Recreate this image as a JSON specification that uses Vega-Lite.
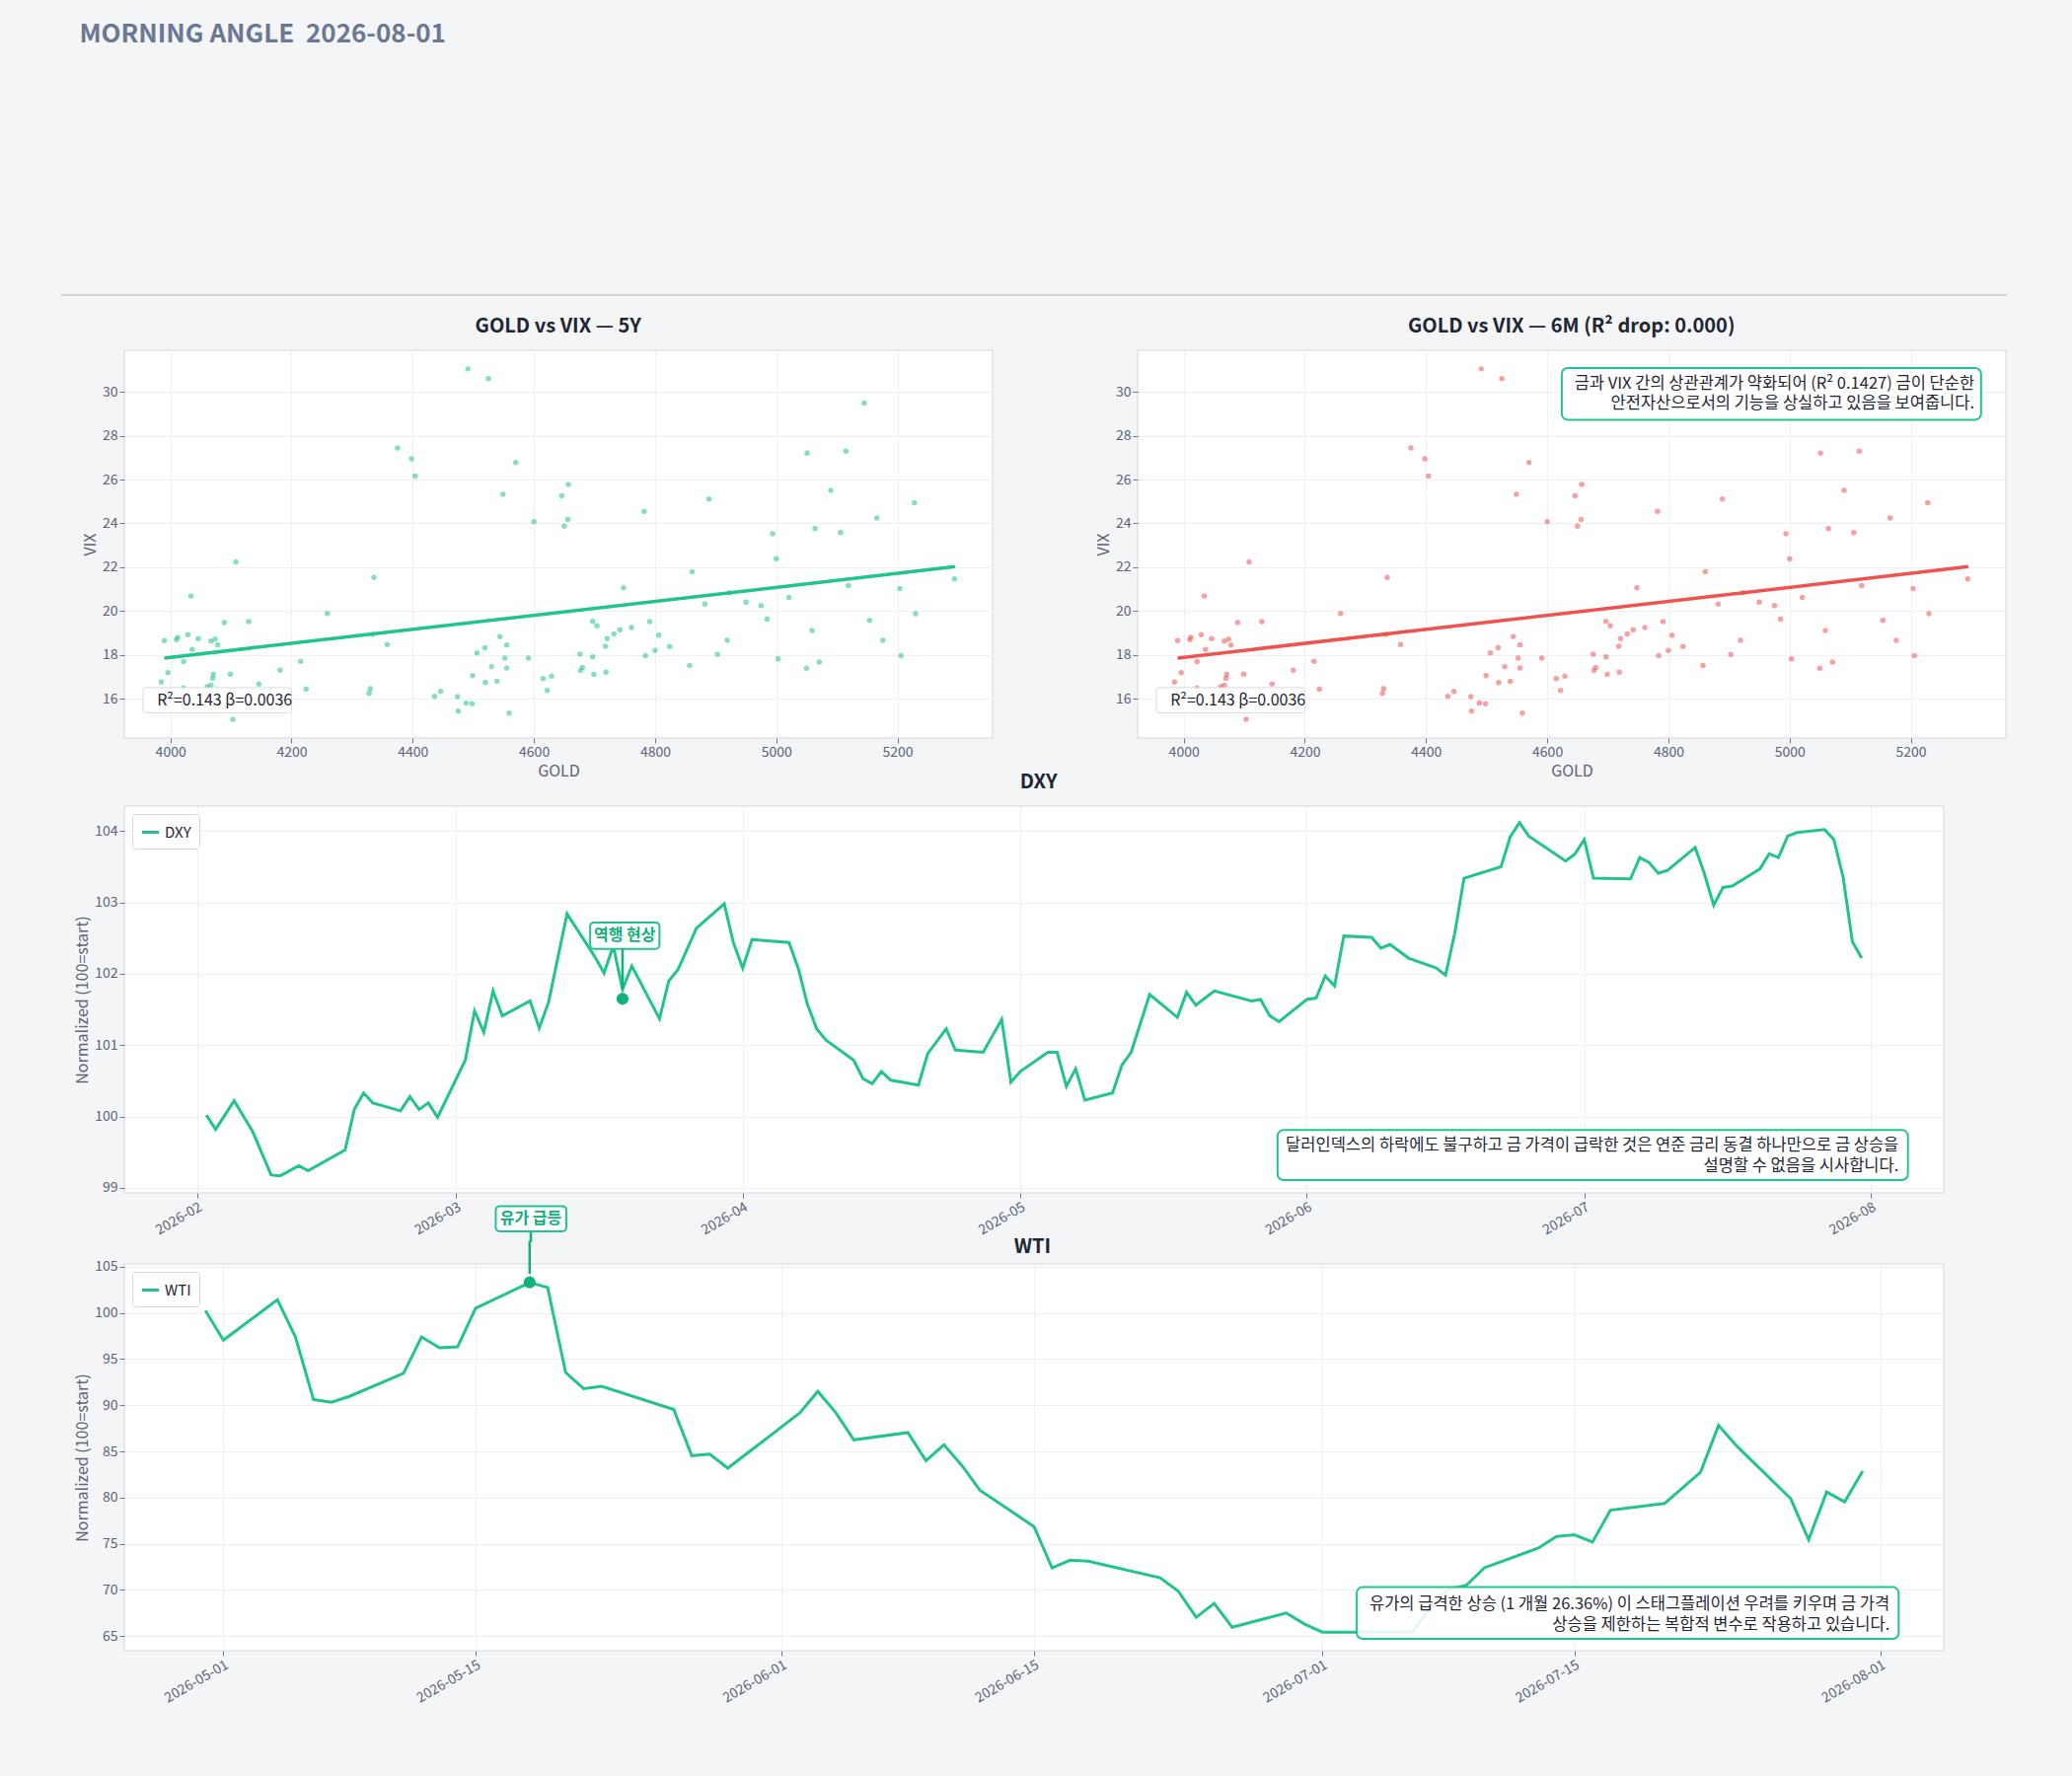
{
  "$schema": "https://vega.github.io/schema/vega-lite/v6.json",
  "background": "#f4f5f7",
  "padding": {"left": 60, "top": 22, "right": 65, "bottom": 76},
  "title": {"text": "MORNING ANGLE\u00a0 2026-08-01", "anchor": "start", "fontSize": 26, "font": "Noto Sans CJK KR", "fontWeight": "bold", "color": "#6b7894", "offset": 249, "dx": 20},
  "config": {
    "font": "Noto Sans CJK KR",
    "view": {"fill": "white", "stroke": "#dfe2e7", "strokeWidth": 1.5},
    "axis": {"gridColor": "#eef0f3", "domain": false, "tickColor": "#6b7894", "labelColor": "#5a6478", "titleColor": "#5a6478", "labelFontSize": 14, "titleFontSize": 16, "titleFontWeight": "normal"},
    "text": {"font": "Noto Sans CJK KR"}
  },
  "resolve": {"scale": {"color": "independent"}, "legend": {"color": "independent"}},
  "spacing": -8,
  "datasets": {
    "gv": [
      {"gold":4491,"vix":31.05},{"gold":4525,"vix":30.61},{"gold":5145,"vix":29.49},{"gold":4375,"vix":27.44},{"gold":4398,"vix":26.95},{"gold":4404,"vix":26.16},{"gold":4570,"vix":26.78},{"gold":5051,"vix":27.2},{"gold":5115,"vix":27.29},{"gold":4549,"vix":25.33},{"gold":4657,"vix":25.78},{"gold":4646,"vix":25.26},{"gold":4889,"vix":25.11},{"gold":5090,"vix":25.51},{"gold":5228,"vix":24.94},{"gold":4782,"vix":24.55},{"gold":4600,"vix":24.08},{"gold":4656,"vix":24.18},{"gold":4650,"vix":23.87},{"gold":5166,"vix":24.24},{"gold":4994,"vix":23.52},{"gold":5064,"vix":23.76},{"gold":5106,"vix":23.58},{"gold":5000,"vix":22.39},{"gold":4108,"vix":22.24},{"gold":4336,"vix":21.53},{"gold":4861,"vix":21.79},{"gold":4748,"vix":21.06},{"gold":5119,"vix":21.16},{"gold":5204,"vix":21.02},{"gold":5294,"vix":21.46},{"gold":4034,"vix":20.68},{"gold":4923,"vix":20.83},{"gold":4950,"vix":20.4},{"gold":4975,"vix":20.25},{"gold":5021,"vix":20.62},{"gold":4259,"vix":19.89},{"gold":4882,"vix":20.31},{"gold":5230,"vix":19.87},{"gold":4985,"vix":19.63},{"gold":5154,"vix":19.57},{"gold":4089,"vix":19.47},{"gold":4129,"vix":19.51},{"gold":4697,"vix":19.53},{"gold":4704,"vix":19.32},{"gold":4791,"vix":19.51},{"gold":4742,"vix":19.14},{"gold":4732,"vix":18.95},{"gold":4761,"vix":19.24},{"gold":4806,"vix":18.9},{"gold":4721,"vix":18.74},{"gold":4718,"vix":18.39},{"gold":4824,"vix":18.38},{"gold":5059,"vix":19.11},{"gold":4919,"vix":18.66},{"gold":5176,"vix":18.66},{"gold":3990,"vix":18.65},{"gold":4010,"vix":18.69},{"gold":4012,"vix":18.8},{"gold":4029,"vix":18.92},{"gold":4046,"vix":18.74},{"gold":4067,"vix":18.62},{"gold":4074,"vix":18.71},{"gold":4078,"vix":18.44},{"gold":4036,"vix":18.24},{"gold":4334,"vix":18.93},{"gold":4358,"vix":18.47},{"gold":4544,"vix":18.83},{"gold":4555,"vix":18.45},{"gold":4519,"vix":18.32},{"gold":4506,"vix":18.08},{"gold":4552,"vix":17.85},{"gold":4591,"vix":17.85},{"gold":4676,"vix":18.03},{"gold":4697,"vix":17.9},{"gold":4784,"vix":17.96},{"gold":4800,"vix":18.2},{"gold":4903,"vix":18.02},{"gold":5003,"vix":17.81},{"gold":5206,"vix":17.96},{"gold":4022,"vix":17.69},{"gold":4215,"vix":17.7},{"gold":4530,"vix":17.46},{"gold":4555,"vix":17.4},{"gold":4680,"vix":17.42},{"gold":4677,"vix":17.29},{"gold":4699,"vix":17.11},{"gold":4719,"vix":17.21},{"gold":4857,"vix":17.51},{"gold":5050,"vix":17.39},{"gold":5071,"vix":17.67},{"gold":3996,"vix":17.18},{"gold":4181,"vix":17.3},{"gold":4071,"vix":17.11},{"gold":4099,"vix":17.12},{"gold":4070,"vix":16.93},{"gold":4499,"vix":17.05},{"gold":4629,"vix":17.03},{"gold":4615,"vix":16.91},{"gold":3985,"vix":16.76},{"gold":4146,"vix":16.67},{"gold":4067,"vix":16.61},{"gold":4061,"vix":16.54},{"gold":4520,"vix":16.73},{"gold":4539,"vix":16.79},{"gold":4022,"vix":16.49},{"gold":4224,"vix":16.43},{"gold":4330,"vix":16.45},{"gold":4328,"vix":16.24},{"gold":4622,"vix":16.37},{"gold":4446,"vix":16.33},{"gold":4436,"vix":16.1},{"gold":4474,"vix":16.09},{"gold":4488,"vix":15.8},{"gold":4498,"vix":15.77},{"gold":4475,"vix":15.43},{"gold":4559,"vix":15.34},{"gold":4103,"vix":15.06}
    ],
    "dxy": [
      {"date":"2026-02-02","v":100.02},{"date":"2026-02-03","v":99.82},{"date":"2026-02-05","v":100.22},{"date":"2026-02-07","v":99.79},{"date":"2026-02-09","v":99.18},{"date":"2026-02-10","v":99.17},{"date":"2026-02-12","v":99.31},{"date":"2026-02-13","v":99.24},{"date":"2026-02-17","v":99.53},{"date":"2026-02-18","v":100.1},{"date":"2026-02-19","v":100.33},{"date":"2026-02-20","v":100.19},{"date":"2026-02-23","v":100.08},{"date":"2026-02-24","v":100.28},{"date":"2026-02-25","v":100.1},{"date":"2026-02-26","v":100.19},{"date":"2026-02-27","v":99.99},{"date":"2026-03-02","v":100.79},{"date":"2026-03-03","v":101.48},{"date":"2026-03-04","v":101.18},{"date":"2026-03-05","v":101.76},{"date":"2026-03-06","v":101.41},{"date":"2026-03-09","v":101.62},{"date":"2026-03-10","v":101.24},{"date":"2026-03-11","v":101.6},{"date":"2026-03-13","v":102.84},{"date":"2026-03-16","v":102.24},{"date":"2026-03-17","v":102.01},{"date":"2026-03-18","v":102.39},{"date":"2026-03-19","v":101.78},{"date":"2026-03-20","v":102.11},{"date":"2026-03-23","v":101.37},{"date":"2026-03-24","v":101.9},{"date":"2026-03-25","v":102.06},{"date":"2026-03-27","v":102.64},{"date":"2026-03-30","v":102.98},{"date":"2026-03-31","v":102.43},{"date":"2026-04-01","v":102.08},{"date":"2026-04-02","v":102.48},{"date":"2026-04-06","v":102.44},{"date":"2026-04-07","v":102.08},{"date":"2026-04-08","v":101.57},{"date":"2026-04-09","v":101.23},{"date":"2026-04-10","v":101.07},{"date":"2026-04-13","v":100.79},{"date":"2026-04-14","v":100.53},{"date":"2026-04-15","v":100.46},{"date":"2026-04-16","v":100.63},{"date":"2026-04-17","v":100.51},{"date":"2026-04-20","v":100.44},{"date":"2026-04-21","v":100.88},{"date":"2026-04-23","v":101.23},{"date":"2026-04-24","v":100.93},{"date":"2026-04-27","v":100.9},{"date":"2026-04-29","v":101.36},{"date":"2026-04-30","v":100.48},{"date":"2026-05-01","v":100.63},{"date":"2026-05-04","v":100.9},{"date":"2026-05-05","v":100.9},{"date":"2026-05-06","v":100.42},{"date":"2026-05-07","v":100.67},{"date":"2026-05-08","v":100.23},{"date":"2026-05-11","v":100.33},{"date":"2026-05-12","v":100.72},{"date":"2026-05-13","v":100.9},{"date":"2026-05-15","v":101.71},{"date":"2026-05-18","v":101.39},{"date":"2026-05-19","v":101.74},{"date":"2026-05-20","v":101.56},{"date":"2026-05-22","v":101.76},{"date":"2026-05-26","v":101.62},{"date":"2026-05-27","v":101.64},{"date":"2026-05-28","v":101.41},{"date":"2026-05-29","v":101.33},{"date":"2026-06-01","v":101.64},{"date":"2026-06-02","v":101.66},{"date":"2026-06-03","v":101.97},{"date":"2026-06-04","v":101.83},{"date":"2026-06-05","v":102.53},{"date":"2026-06-08","v":102.51},{"date":"2026-06-09","v":102.36},{"date":"2026-06-10","v":102.41},{"date":"2026-06-12","v":102.22},{"date":"2026-06-15","v":102.08},{"date":"2026-06-16","v":101.98},{"date":"2026-06-17","v":102.57},{"date":"2026-06-18","v":103.34},{"date":"2026-06-22","v":103.5},{"date":"2026-06-23","v":103.92},{"date":"2026-06-24","v":104.12},{"date":"2026-06-25","v":103.93},{"date":"2026-06-29","v":103.58},{"date":"2026-06-30","v":103.68},{"date":"2026-07-01","v":103.88},{"date":"2026-07-02","v":103.34},{"date":"2026-07-06","v":103.33},{"date":"2026-07-07","v":103.63},{"date":"2026-07-08","v":103.56},{"date":"2026-07-09","v":103.41},{"date":"2026-07-10","v":103.45},{"date":"2026-07-13","v":103.77},{"date":"2026-07-14","v":103.4},{"date":"2026-07-15","v":102.96},{"date":"2026-07-16","v":103.21},{"date":"2026-07-17","v":103.23},{"date":"2026-07-20","v":103.47},{"date":"2026-07-21","v":103.68},{"date":"2026-07-22","v":103.63},{"date":"2026-07-23","v":103.93},{"date":"2026-07-24","v":103.98},{"date":"2026-07-27","v":104.02},{"date":"2026-07-28","v":103.88},{"date":"2026-07-29","v":103.35},{"date":"2026-07-30","v":102.45},{"date":"2026-07-31","v":102.22}
    ],
    "wti": [
      {"date":"2026-04-30","v":100.25},{"date":"2026-05-01","v":97.04},{"date":"2026-05-04","v":101.43},{"date":"2026-05-05","v":97.39},{"date":"2026-05-06","v":90.61},{"date":"2026-05-07","v":90.32},{"date":"2026-05-08","v":90.96},{"date":"2026-05-11","v":93.46},{"date":"2026-05-12","v":97.39},{"date":"2026-05-13","v":96.21},{"date":"2026-05-14","v":96.32},{"date":"2026-05-15","v":100.5},{"date":"2026-05-18","v":103.29},{"date":"2026-05-19","v":102.75},{"date":"2026-05-20","v":93.54},{"date":"2026-05-21","v":91.79},{"date":"2026-05-22","v":92.04},{"date":"2026-05-26","v":89.54},{"date":"2026-05-27","v":84.54},{"date":"2026-05-28","v":84.71},{"date":"2026-05-29","v":83.18},{"date":"2026-06-02","v":89.18},{"date":"2026-06-03","v":91.5},{"date":"2026-06-04","v":89.18},{"date":"2026-06-05","v":86.25},{"date":"2026-06-08","v":87.04},{"date":"2026-06-09","v":84.0},{"date":"2026-06-10","v":85.71},{"date":"2026-06-11","v":83.46},{"date":"2026-06-12","v":80.79},{"date":"2026-06-15","v":76.86},{"date":"2026-06-16","v":72.39},{"date":"2026-06-17","v":73.21},{"date":"2026-06-18","v":73.11},{"date":"2026-06-22","v":71.32},{"date":"2026-06-23","v":69.89},{"date":"2026-06-24","v":67.04},{"date":"2026-06-25","v":68.54},{"date":"2026-06-26","v":65.96},{"date":"2026-06-29","v":67.5},{"date":"2026-06-30","v":66.32},{"date":"2026-07-01","v":65.43},{"date":"2026-07-03","v":65.43},{"date":"2026-07-06","v":65.43},{"date":"2026-07-07","v":68.1},{"date":"2026-07-08","v":70.07},{"date":"2026-07-09","v":70.5},{"date":"2026-07-10","v":72.4},{"date":"2026-07-13","v":74.54},{"date":"2026-07-14","v":75.79},{"date":"2026-07-15","v":75.96},{"date":"2026-07-16","v":75.18},{"date":"2026-07-17","v":78.64},{"date":"2026-07-20","v":79.36},{"date":"2026-07-22","v":82.75},{"date":"2026-07-23","v":87.82},{"date":"2026-07-24","v":85.6},{"date":"2026-07-27","v":79.9},{"date":"2026-07-28","v":75.43},{"date":"2026-07-29","v":80.6},{"date":"2026-07-30","v":79.54},{"date":"2026-07-31","v":82.86}
    ]
  },
  "vconcat": [
    {
      "bounds": "flush",
      "spacing": 147,
      "hconcat": [
        {
          "width": 880, "height": 393,
          "data": {"name": "gv"},
          "encoding": {
            "x": {"field": "gold", "type": "quantitative", "title": "GOLD", "scale": {"domain": [3924, 5357], "nice": false, "zero": false}, "axis": {"values": [4000, 4200, 4400, 4600, 4800, 5000, 5200], "format": "d"}},
            "y": {"field": "vix", "type": "quantitative", "title": "VIX", "scale": {"domain": [14.2, 31.9], "nice": false, "zero": false}, "axis": {"values": [16, 18, 20, 22, 24, 26, 28, 30]}}
          },
          "layer": [
            {"data": {"values": [{"x": 3820, "x2": 7031, "y": 34.42}]}, "mark": {"type": "rule", "color": "#cfd3da", "strokeWidth": 2, "clip": false}, "encoding": {"x": {"field": "x", "type": "quantitative"}, "x2": {"field": "x2"}, "y": {"field": "y", "type": "quantitative"}}},
            {"data": {"values": [{"x": 4640, "y": 32.98, "t": "GOLD vs VIX — 5Y"}]}, "mark": {"type": "text", "fontSize": 20, "fontWeight": "bold", "color": "#1f2633", "baseline": "middle", "clip": false}, "encoding": {"x": {"field": "x", "type": "quantitative"}, "y": {"field": "y", "type": "quantitative"}, "text": {"field": "t"}}},
            {"mark": {"type": "circle", "size": 30, "color": "#22c38e", "opacity": 0.55}},
            {"transform": [{"regression": "vix", "on": "gold", "extent": [3990, 5295]}], "mark": {"type": "line", "color": "#22c38e", "strokeWidth": 3.5}},
            {"data": {"values": [{"x": 3955, "x2": 4200, "y": 15.35, "y2": 16.5}]}, "mark": {"type": "rect", "fill": "white", "fillOpacity": 0.85, "stroke": "#d5d9e0", "cornerRadius": 3}, "encoding": {"x": {"field": "x", "type": "quantitative"}, "x2": {"field": "x2"}, "y": {"field": "y", "type": "quantitative"}, "y2": {"field": "y2"}}},
            {"data": {"values": [{"x": 3978, "y": 15.92, "t": "R²=0.143  β=0.0036"}]}, "mark": {"type": "text", "align": "left", "baseline": "middle", "fontSize": 16, "color": "#1f2633"}, "encoding": {"x": {"field": "x", "type": "quantitative"}, "y": {"field": "y", "type": "quantitative"}, "text": {"field": "t"}}}
          ]
        },
        {
          "width": 880, "height": 393,
          "data": {"name": "gv"},
          "encoding": {
            "x": {"field": "gold", "type": "quantitative", "title": "GOLD", "scale": {"domain": [3924, 5357], "nice": false, "zero": false}, "axis": {"values": [4000, 4200, 4400, 4600, 4800, 5000, 5200], "format": "d"}},
            "y": {"field": "vix", "type": "quantitative", "title": "VIX", "scale": {"domain": [14.2, 31.9], "nice": false, "zero": false}, "axis": {"values": [16, 18, 20, 22, 24, 26, 28, 30]}}
          },
          "layer": [
            {"data": {"values": [{"x": 4640, "y": 32.98, "t": "GOLD vs VIX — 6M (R² drop: 0.000)"}]}, "mark": {"type": "text", "fontSize": 20, "fontWeight": "bold", "color": "#1f2633", "baseline": "middle", "clip": false}, "encoding": {"x": {"field": "x", "type": "quantitative"}, "y": {"field": "y", "type": "quantitative"}, "text": {"field": "t"}}},
            {"mark": {"type": "circle", "size": 30, "color": "#ef5350", "opacity": 0.55}},
            {"transform": [{"regression": "vix", "on": "gold", "extent": [3990, 5295]}], "mark": {"type": "line", "color": "#ef5350", "strokeWidth": 3.5}},
            {"data": {"values": [{"x": 3955, "x2": 4200, "y": 15.35, "y2": 16.5}]}, "mark": {"type": "rect", "fill": "white", "fillOpacity": 0.85, "stroke": "#d5d9e0", "cornerRadius": 3}, "encoding": {"x": {"field": "x", "type": "quantitative"}, "x2": {"field": "x2"}, "y": {"field": "y", "type": "quantitative"}, "y2": {"field": "y2"}}},
            {"data": {"values": [{"x": 3978, "y": 15.92, "t": "R²=0.143  β=0.0036"}]}, "mark": {"type": "text", "align": "left", "baseline": "middle", "fontSize": 16, "color": "#1f2633"}, "encoding": {"x": {"field": "x", "type": "quantitative"}, "y": {"field": "y", "type": "quantitative"}, "text": {"field": "t"}}},
            {"data": {"values": [{"x": 4624, "x2": 5316, "y": 31.09, "y2": 28.73}]}, "mark": {"type": "rect", "fill": "white", "stroke": "#22c38e", "strokeWidth": 2, "cornerRadius": 6}, "encoding": {"x": {"field": "x", "type": "quantitative"}, "x2": {"field": "x2"}, "y": {"field": "y", "type": "quantitative"}, "y2": {"field": "y2"}}},
            {"data": {"values": [{"x": 5305, "y": 30.39, "t": "금과 VIX 간의 상관관계가 약화되어 (R² 0.1427) 금이 단순한\n안전자산으로서의 기능을 상실하고 있음을 보여줍니다."}]}, "mark": {"type": "text", "align": "right", "baseline": "middle", "lineBreak": "\n", "lineHeight": 20, "fontSize": 16.5, "color": "#1f2633"}, "encoding": {"x": {"field": "x", "type": "quantitative"}, "y": {"field": "y", "type": "quantitative"}, "text": {"field": "t"}}}
          ]
        }
      ]
    },
    {
      "width": 1844, "height": 392,
      "layer": [
        {
          "data": {"name": "dxy"},
          "transform": [{"calculate": "'DXY'", "as": "series"}],
          "mark": {"type": "line", "strokeWidth": 3},
          "encoding": {
            "x": {"field": "date", "type": "temporal", "title": null, "scale": {"domain": [{"year": 2026, "month": 1, "date": 24, "hours": 3}, {"year": 2026, "month": 8, "date": 8, "hours": 21}]}, "axis": {"format": "%Y-%m", "labelAngle": -30, "labelAlign": "right", "tickCount": {"interval": "month", "step": 1}}},
            "y": {"field": "v", "type": "quantitative", "title": "Normalized (100=start)", "scale": {"domain": [98.93, 104.35], "nice": false, "zero": false}, "axis": {"values": [99, 100, 101, 102, 103, 104], "format": "d"}},
            "color": {"field": "series", "type": "nominal", "scale": {"domain": ["DXY"], "range": ["#22c38e"]}, "legend": {"orient": "top-left", "title": null, "symbolType": "stroke", "symbolStrokeWidth": 3, "symbolSize": 300, "labelFontSize": 15, "labelColor": "#1f2633", "fillColor": "white", "strokeColor": "#d5d9e0", "padding": 8, "cornerRadius": 3, "offset": 8}}
          }
        },
        {
          "data": {"values": [{"d": "2026-05-03", "y": 104.68, "t": "DXY"}]},
          "mark": {"type": "text", "fontSize": 20, "fontWeight": "bold", "color": "#1f2633", "baseline": "middle", "clip": false},
          "encoding": {"x": {"field": "d", "type": "temporal"}, "y": {"field": "y", "type": "quantitative"}, "text": {"field": "t"}}
        },
        {
          "data": {"values": [{"d": "2026-03-19", "y": 102.35, "y2": 101.78}]},
          "mark": {"type": "rule", "color": "#12b07c", "strokeWidth": 2.5},
          "encoding": {"x": {"field": "d", "type": "temporal"}, "y": {"field": "y", "type": "quantitative"}, "y2": {"field": "y2"}}
        },
        {
          "data": {"values": [{"d": "2026-03-19", "y": 101.65}]},
          "mark": {"type": "circle", "size": 150, "color": "#12b07c", "opacity": 1},
          "encoding": {"x": {"field": "d", "type": "temporal"}, "y": {"field": "y", "type": "quantitative"}}
        },
        {
          "data": {"values": [{"d": "2026-03-15T12:00", "d2": "2026-03-23", "y": 102.72, "y2": 102.35}]},
          "mark": {"type": "rect", "fill": "white", "stroke": "#22c38e", "strokeWidth": 2, "cornerRadius": 4},
          "encoding": {"x": {"field": "d", "type": "temporal"}, "x2": {"field": "d2"}, "y": {"field": "y", "type": "quantitative"}, "y2": {"field": "y2"}}
        },
        {
          "data": {"values": [{"d": "2026-03-19T06:00", "y": 102.54, "t": "역행 현상"}]},
          "mark": {"type": "text", "fontSize": 16, "fontWeight": "bold", "color": "#12b07c", "baseline": "middle"},
          "encoding": {"x": {"field": "d", "type": "temporal"}, "y": {"field": "y", "type": "quantitative"}, "text": {"field": "t"}}
        },
        {
          "data": {"values": [{"d": "2026-03-09T02:00", "y": 98.39, "y2": 98.24}]},
          "mark": {"type": "rule", "color": "#12b07c", "strokeWidth": 2.5, "clip": false},
          "encoding": {"x": {"field": "d", "type": "temporal"}, "y": {"field": "y", "type": "quantitative"}, "y2": {"field": "y2"}}
        },
        {
          "data": {"values": [{"d": "2026-03-05T07:00", "d2": "2026-03-12T22:00", "y": 98.745, "y2": 98.39}]},
          "mark": {"type": "rect", "fill": "white", "stroke": "#22c38e", "strokeWidth": 2, "cornerRadius": 4, "clip": false},
          "encoding": {"x": {"field": "d", "type": "temporal"}, "x2": {"field": "d2"}, "y": {"field": "y", "type": "quantitative"}, "y2": {"field": "y2"}}
        },
        {
          "data": {"values": [{"d": "2026-03-09T02:00", "y": 98.565, "t": "유가 급등"}]},
          "mark": {"type": "text", "fontSize": 16, "fontWeight": "bold", "color": "#12b07c", "baseline": "middle", "clip": false},
          "encoding": {"x": {"field": "d", "type": "temporal"}, "y": {"field": "y", "type": "quantitative"}, "text": {"field": "t"}}
        },
        {
          "data": {"values": [{"d": "2026-05-28T20:00", "d2": "2026-08-05", "y": 99.81, "y2": 99.11}]},
          "mark": {"type": "rect", "fill": "white", "stroke": "#22c38e", "strokeWidth": 2, "cornerRadius": 6},
          "encoding": {"x": {"field": "d", "type": "temporal"}, "x2": {"field": "d2"}, "y": {"field": "y", "type": "quantitative"}, "y2": {"field": "y2"}}
        },
        {
          "data": {"values": [{"d": "2026-08-04", "y": 99.59, "t": "달러인덱스의 하락에도 불구하고 금 가격이 급락한 것은 연준 금리 동결 하나만으로 금 상승을\n설명할 수 없음을 시사합니다."}]},
          "mark": {"type": "text", "align": "right", "baseline": "middle", "lineBreak": "\n", "lineHeight": 21, "fontSize": 16.5, "color": "#1f2633"},
          "encoding": {"x": {"field": "d", "type": "temporal"}, "y": {"field": "y", "type": "quantitative"}, "text": {"field": "t"}}
        }
      ]
    },
    {
      "width": 1844, "height": 392,
      "layer": [
        {
          "data": {"name": "wti"},
          "transform": [{"calculate": "'WTI'", "as": "series"}],
          "mark": {"type": "line", "strokeWidth": 3},
          "encoding": {
            "x": {"field": "date", "type": "temporal", "title": null, "scale": {"domain": [{"year": 2026, "month": 4, "date": 25, "hours": 12}, {"year": 2026, "month": 8, "date": 4, "hours": 12}]}, "axis": {"format": "%Y-%m-%d", "labelAngle": -30, "labelAlign": "right", "values": [{"year": 2026, "month": 5, "date": 1}, {"year": 2026, "month": 5, "date": 15}, {"year": 2026, "month": 6, "date": 1}, {"year": 2026, "month": 6, "date": 15}, {"year": 2026, "month": 7, "date": 1}, {"year": 2026, "month": 7, "date": 15}, {"year": 2026, "month": 8, "date": 1}]}},
            "y": {"field": "v", "type": "quantitative", "title": "Normalized (100=start)", "scale": {"domain": [63.42, 105.3], "nice": false, "zero": false}, "axis": {"values": [65, 70, 75, 80, 85, 90, 95, 100, 105]}},
            "color": {"field": "series", "type": "nominal", "scale": {"domain": ["WTI"], "range": ["#22c38e"]}, "legend": {"orient": "top-left", "title": null, "symbolType": "stroke", "symbolStrokeWidth": 3, "symbolSize": 300, "labelFontSize": 15, "labelColor": "#1f2633", "fillColor": "white", "strokeColor": "#d5d9e0", "padding": 8, "cornerRadius": 3, "offset": 8}}
          }
        },
        {
          "data": {"values": [{"d": "2026-06-14T22:00", "y": 107.14, "t": "WTI"}]},
          "mark": {"type": "text", "fontSize": 20, "fontWeight": "bold", "color": "#1f2633", "baseline": "middle", "clip": false},
          "encoding": {"x": {"field": "d", "type": "temporal"}, "y": {"field": "y", "type": "quantitative"}, "text": {"field": "t"}}
        },
        {
          "data": {"values": [{"d": "2026-05-18", "y": 107.8, "y2": 104.2}]},
          "mark": {"type": "rule", "color": "#12b07c", "strokeWidth": 2.5, "clip": false},
          "encoding": {"x": {"field": "d", "type": "temporal"}, "y": {"field": "y", "type": "quantitative"}, "y2": {"field": "y2"}}
        },
        {
          "data": {"values": [{"d": "2026-05-18", "y": 103.3}]},
          "mark": {"type": "circle", "size": 150, "color": "#12b07c", "opacity": 1},
          "encoding": {"x": {"field": "d", "type": "temporal"}, "y": {"field": "y", "type": "quantitative"}}
        },
        {
          "data": {"values": [{"d": "2026-07-02T22:00", "d2": "2026-08-02", "y": 70.3, "y2": 64.7}]},
          "mark": {"type": "rect", "fill": "white", "fillOpacity": 0.88, "stroke": "#22c38e", "strokeWidth": 2, "cornerRadius": 6},
          "encoding": {"x": {"field": "d", "type": "temporal"}, "x2": {"field": "d2"}, "y": {"field": "y", "type": "quantitative"}, "y2": {"field": "y2"}}
        },
        {
          "data": {"values": [{"d": "2026-08-01T12:00", "y": 68.46, "t": "유가의 급격한 상승 (1 개월 26.36%) 이 스태그플레이션 우려를 키우며 금 가격\n상승을 제한하는 복합적 변수로 작용하고 있습니다."}]},
          "mark": {"type": "text", "align": "right", "baseline": "middle", "lineBreak": "\n", "lineHeight": 21, "fontSize": 16.5, "color": "#1f2633"},
          "encoding": {"x": {"field": "d", "type": "temporal"}, "y": {"field": "y", "type": "quantitative"}, "text": {"field": "t"}}
        }
      ]
    }
  ]
}
